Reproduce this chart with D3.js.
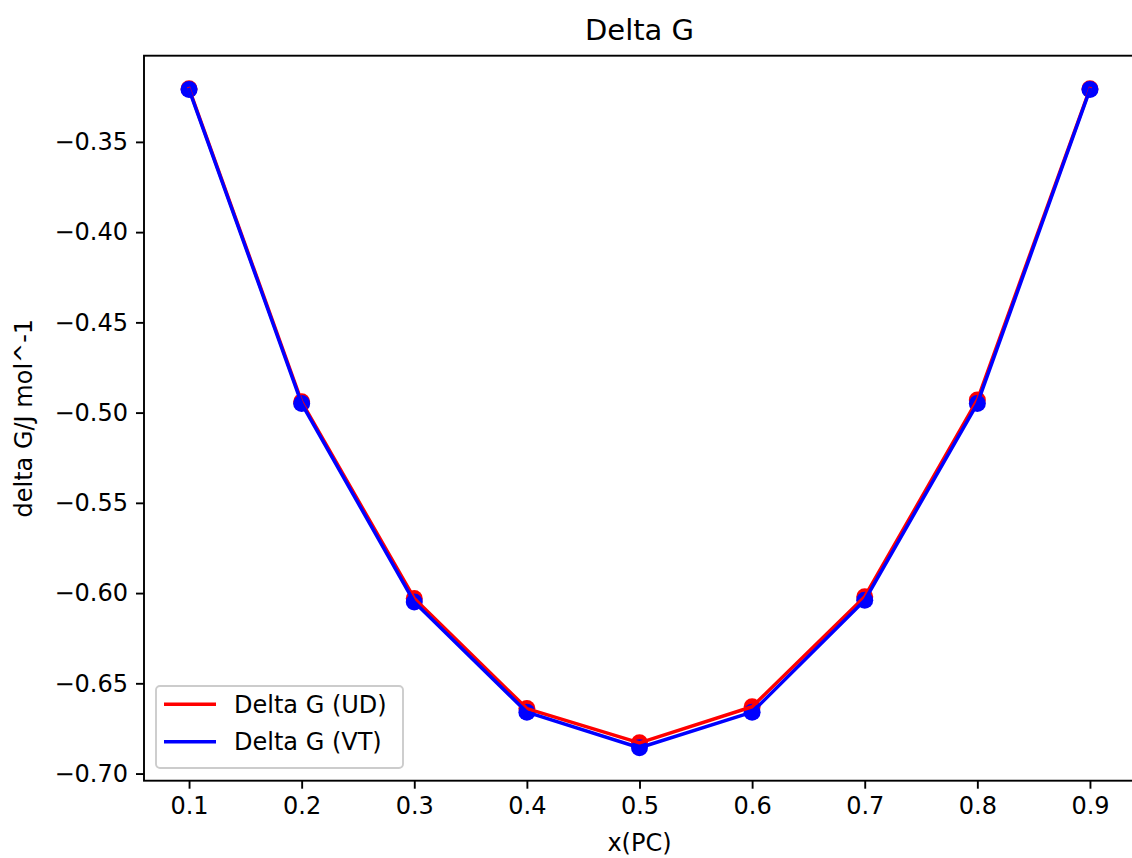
<!DOCTYPE html>
<html>
<head>
<meta charset="utf-8">
<script src="https://cdn.jsdelivr.net/npm/d3@7"></script>
<style>
  body { margin: 0; background: #fff; }
  svg { display: block; font-family: "DejaVu Sans", sans-serif; }
</style>
</head>
<body>
<script>
var w = 1132;
var h = 858;

// data
var xPC = [0.1, 0.2, 0.3, 0.4, 0.5, 0.6, 0.7, 0.8, 0.9];
var dgUD = [-0.3205, -0.494, -0.603, -0.664, -0.683, -0.663, -0.602, -0.493, -0.3205];
var dgVT = [-0.321, -0.495, -0.605, -0.666, -0.6857, -0.666, -0.604, -0.495, -0.321];
var xTicks = [0.1, 0.2, 0.3, 0.4, 0.5, 0.6, 0.7, 0.8, 0.9];
var yTicks = [-0.70, -0.65, -0.60, -0.55, -0.50, -0.45, -0.40, -0.35];
var seriesNames = ["Delta G (UD)", "Delta G (VT)"];
var seriesColors = ["red", "blue"];

// plot area (window.top is taken, so own names)
var axLeft = 144, axRight = 1135, axTop = 55.7, axBottom = 780.7;

// matplotlib style 5% margins
function pad(ext) {
    var m = (ext[1] - ext[0]) * 0.05;
    return [ext[0] - m, ext[1] + m];
}
var xScale = d3.scaleLinear()
    .domain(pad(d3.extent(xPC)))
    .range([axLeft, axRight]);
var yScale = d3.scaleLinear()
    .domain(pad(d3.extent(dgUD.concat(dgVT))))
    .range([axBottom, axTop]);

var svg = d3.select("body")
    .append("svg")
    .attr("width", w)
    .attr("height", h);

var series = [dgUD, dgVT];

// scatter dots go under the lines (zorder 1 vs 2)
series.forEach(function (vals, k) {
    svg.append("g")
        .selectAll("circle")
        .data(vals)
        .enter()
        .append("circle")
        .attr("cx", function (d, i) { return xScale(xPC[i]); })
        .attr("cy", function (d) { return yScale(d); })
        .attr("r", 8.5)
        .style("fill", seriesColors[k]);
});

var line = d3.line()
    .x(function (d, i) { return xScale(xPC[i]); })
    .y(function (d) { return yScale(d); });

series.forEach(function (vals, k) {
    svg.append("path")
        .datum(vals)
        .attr("d", line)
        .style("fill", "none")
        .style("stroke", seriesColors[k])
        .style("stroke-width", 3.5)
        .style("stroke-linejoin", "round")
        .style("stroke-linecap", "square");
});

// axes
var xAxis = d3.axisBottom(xScale)
    .tickValues(xTicks)
    .tickSize(8)
    .tickPadding(8)
    .tickFormat(d3.format(".1f"));
var yAxis = d3.axisLeft(yScale)
    .tickValues(yTicks)
    .tickSize(8)
    .tickPadding(8)
    .tickFormat(d3.format(".2f"));

var gx = svg.append("g")
    .attr("transform", "translate(0," + axBottom + ")")
    .call(xAxis);
var gy = svg.append("g")
    .attr("transform", "translate(" + axLeft + ",0)")
    .call(yAxis);

[gx, gy].forEach(function (g) {
    g.select(".domain").remove();
    g.selectAll(".tick line").style("stroke", "#000").style("stroke-width", 1.9);
    g.selectAll(".tick text")
        .style("font-family", "DejaVu Sans")
        .style("font-size", "24px")
        .style("fill", "#000");
});

// frame
svg.append("rect")
    .attr("x", axLeft)
    .attr("y", axTop)
    .attr("width", axRight - axLeft)
    .attr("height", axBottom - axTop)
    .style("fill", "none")
    .style("stroke", "#000")
    .style("stroke-width", 1.9);

// title and labels
svg.append("text")
    .attr("x", (axLeft + axRight) / 2)
    .attr("y", 40)
    .attr("text-anchor", "middle")
    .style("font-size", "29px")
    .text("Delta G");

svg.append("text")
    .attr("x", (axLeft + axRight) / 2)
    .attr("y", 851)
    .attr("text-anchor", "middle")
    .style("font-size", "24px")
    .text("x(PC)");

svg.append("text")
    .attr("transform", "translate(32," + ((axTop + axBottom) / 2) + ") rotate(-90)")
    .attr("text-anchor", "middle")
    .style("font-size", "24px")
    .text("delta G/J mol^-1");

// legend
var lg = svg.append("g");
lg.append("rect")
    .attr("x", 156)
    .attr("y", 686)
    .attr("width", 247)
    .attr("height", 82)
    .attr("rx", 4)
    .style("fill", "rgba(255,255,255,0.8)")
    .style("stroke", "#cccccc")
    .style("stroke-width", 1.9);

seriesNames.forEach(function (name, k) {
    var y = 704.3 + k * 37.4;
    lg.append("line")
        .attr("x1", 164).attr("x2", 216)
        .attr("y1", y).attr("y2", y)
        .style("stroke", seriesColors[k])
        .style("stroke-width", 3.5);
    lg.append("text")
        .attr("x", 234)
        .attr("y", y + 8.5)
        .style("font-size", "24px")
        .style("fill", "#000")
        .text(name);
});
</script>
</body>
</html>
